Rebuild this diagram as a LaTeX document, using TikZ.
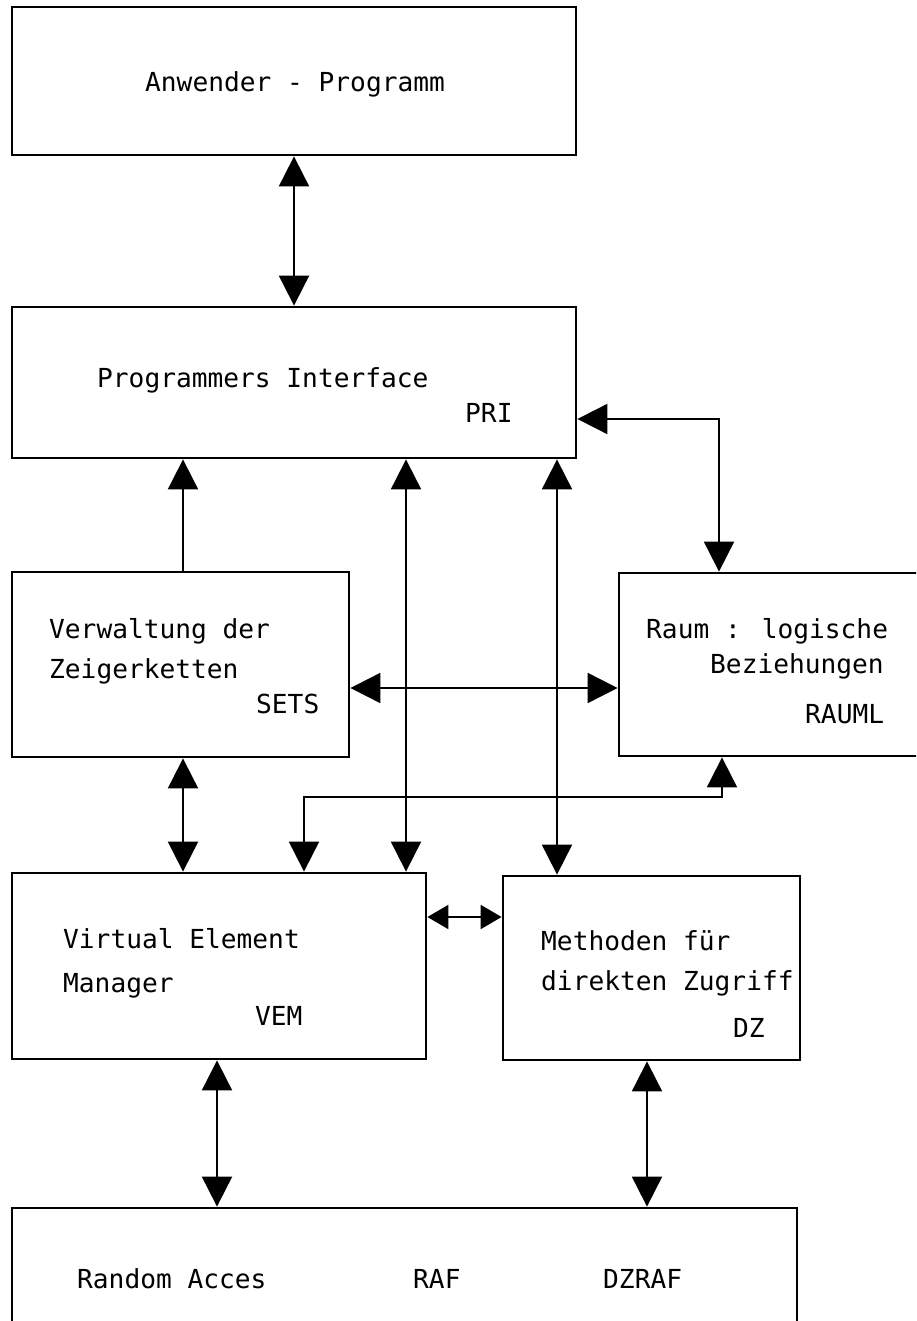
\documentclass[tikz,border=0pt]{standalone}
\usepackage{fontspec}
\setmainfont{DejaVu Sans Mono}
\usetikzlibrary{arrows.meta}

\begin{document}
\begin{tikzpicture}[
  x=1pt, y=-1pt,
  >={Triangle[length=30pt, width=30pt]},
  block/.style={rectangle, draw, line width=2.8pt, inner sep=0pt},
  lbl/.style={anchor=base west, inner sep=0pt, font=\fontsize{26.2}{30}\selectfont},
  conn/.style={line width=2pt}
  ]
  \useasboundingbox (0,0) rectangle (916,1321);
  \clip (0,0) rectangle (916,1321);

  % blocks
  \node[block, minimum width=564pt, minimum height=148pt] (prog) at (294,81) {};
  \node[block, minimum width=564pt, minimum height=151pt] (pri) at (294,382.5) {};
  \node[block, minimum width=337pt, minimum height=185pt] (sets) at (180.5,664.5) {};
  \node[block, minimum width=341pt, minimum height=183pt] (raum) at (789.5,664.5) {};
  \node[block, minimum width=414pt, minimum height=186pt] (vem) at (219,966) {};
  \node[block, minimum width=297pt, minimum height=184pt] (dz) at (651.5,968) {};
  \node[block, minimum width=785pt, minimum height=152pt] (raf) at (404.5,1284) {};

  % texts
  \node[lbl] (progtxt) at (145,92) {Anwender - Programm};
  \node[lbl] (pritxt) at (97,387) {Programmers Interface};
  \node[lbl] (priname) at (465,422) {PRI};
  \node[lbl] (setstxta) at (49,638) {Verwaltung der};
  \node[lbl] (setstxtb) at (49,678) {Zeigerketten};
  \node[lbl] (setsname) at (256,713) {SETS};
  \node[lbl] (raumtxta) at (646,638) {Raum : logische};
  \node[lbl] (raumtxtb) at (710,673) {Beziehungen};
  \node[lbl] (raumname) at (805,723) {RAUML};
  \node[lbl] (vemtxta) at (63,948) {Virtual Element};
  \node[lbl] (vemtxtb) at (63,992) {Manager};
  \node[lbl] (vemname) at (255,1025) {VEM};
  \node[lbl] (dztxta) at (541,950) {Methoden für};
  \node[lbl] (dztxtb) at (541,990) {direkten Zugriff};
  \node[lbl] (dzname) at (733,1037) {DZ};
  \node[lbl] (raftxt) at (77,1288) {Random Acces};
  \node[lbl] (rafname) at (413,1288) {RAF};
  \node[lbl] (dzrafname) at (603,1288) {DZRAF};

  % connectors
  \draw[conn, <->] (prog.south) -- (pri.north);
  \draw[conn, <->] (pri.east |- 0,419) -| (raum.north -| 719,0);
  \draw[conn, ->] (sets.north -| 183,0) -- (pri.south -| 183,0);
  \draw[conn, <->] (pri.south -| 406,0) -- (vem.north -| 406,0);
  \draw[conn, <->] (pri.south -| 557,0) -- (dz.north -| 557,0);
  \draw[conn, <->] (sets.east |- 0,688) -- (raum.west |- 0,688);
  \draw[conn, <->] (sets.south -| 183,0) -- (vem.north -| 183,0);
  \draw[conn, <->] (raum.south -| 722,0) -- (722,797) -| (vem.north -| 304,0);
  \draw[conn, <->, >={Triangle[length=21pt, width=24pt]}] (vem.east |- 0,917) -- (dz.west |- 0,917);
  \draw[conn, <->] (vem.south -| 217,0) -- (raf.north -| 217,0);
  \draw[conn, <->] (dz.south -| 647,0) -- (raf.north -| 647,0);
\end{tikzpicture}
\end{document}
